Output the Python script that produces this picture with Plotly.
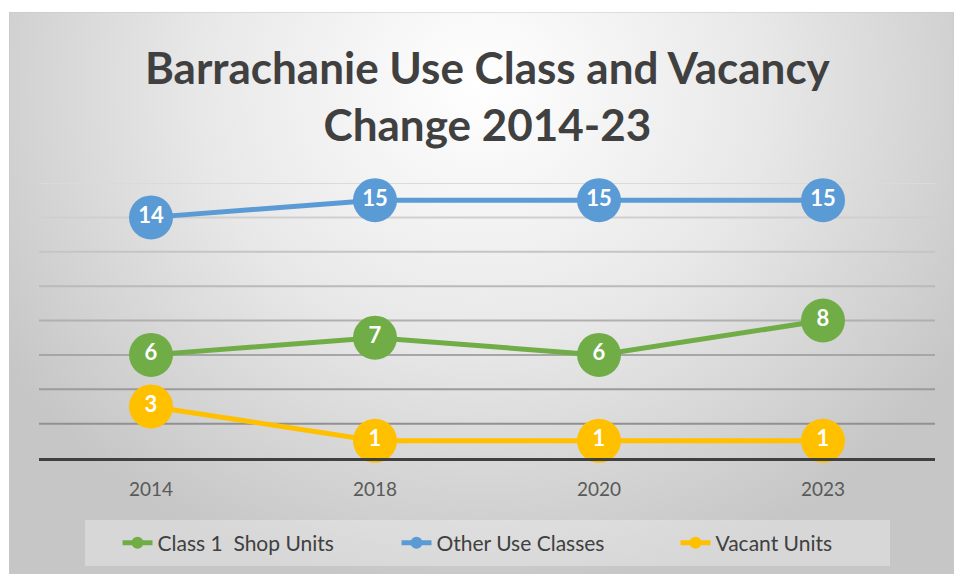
import base64
import plotly.graph_objects as go

# Survey years and unit counts per category
years = ["2014", "2018", "2020", "2023"]
shop_units = [6, 7, 6, 8]
other_use = [14, 15, 15, 15]
vacant_units = [3, 1, 1, 1]

series_names = ["Class 1\u00a0 Shop Units", "Other Use Classes", "Vacant Units"]
series_values = [shop_units, other_use, vacant_units]
series_colors = ["#70AD47", "#5B9BD5", "#FFC000"]

W, H = 954, 574
ML, MR, MT, MB = 39, 19, 183, 116
PW, PH = W - ML - MR, H - MT - MB
Y_MAX = 16

FONT = "Lato"

fig = go.Figure()

for name, vals, col in zip(series_names, series_values, series_colors):
    fig.add_trace(go.Scatter(
        x=years, y=vals, name=name,
        mode="lines+markers+text",
        line=dict(color=col, width=5),
        marker=dict(color=col, size=44, line=dict(width=0)),
        text=[str(v) for v in vals],
        textposition="middle center",
        textfont=dict(family=FONT, size=22, color="white", weight="bold"),
        cliponaxis=False,
    ))

# Radial-shaded chart background
bx0, by0 = 9, 12
bw, bh = W - bx0, H - by0
cx, cy = bw * 0.5, bh * 0.13
svg = f'''<svg xmlns="http://www.w3.org/2000/svg" width="{bw}" height="{bh}" viewBox="0 0 {bw} {bh}" preserveAspectRatio="none">
<defs><radialGradient id="g" gradientUnits="userSpaceOnUse" cx="{cx}" cy="{cy}" r="{bw*0.6}" gradientTransform="translate({cx} {cy}) scale(1 0.9) translate({-cx} {-cy})">
<stop offset="0" stop-color="#ffffff"/><stop offset="0.5" stop-color="#e8e8e8"/><stop offset="1" stop-color="#c6c6c6"/>
</radialGradient></defs>
<rect x="0" y="0" width="{bw}" height="{bh}" fill="url(#g)" stroke="#c8c8c8" stroke-width="1"/>
</svg>'''
uri = "data:image/svg+xml;base64," + base64.b64encode(svg.encode()).decode()
fig.add_layout_image(dict(
    source=uri, xref="paper", yref="paper",
    x=(bx0 - ML) / PW, y=(H - MB - by0) / PH,
    sizex=bw / PW, sizey=bh / PH,
    xanchor="left", yanchor="top", sizing="stretch", layer="below",
))

# Horizontal gridlines, darker toward the baseline
shapes = []
for v in range(2, Y_MAX + 1, 2):
    t = v / Y_MAX
    c = int(135 + (218 - 135) * t)
    shapes.append(dict(type="line", xref="paper", yref="y", x0=0, x1=1, y0=v, y1=v,
                       line=dict(color=f"rgb({c},{c},{c})", width=2), layer="below"))
# Legend panel
shapes.append(dict(type="rect", xref="paper", yref="paper",
                   x0=(85 - ML) / PW, x1=(890 - ML) / PW,
                   y0=(H - MB - 566) / PH, y1=(H - MB - 520) / PH,
                   fillcolor="rgba(255,255,255,0.3)", line=dict(width=0), layer="below"))

# Chart title
fig.add_annotation(
    text="Barrachanie Use Class and Vacancy<br>Change 2014-23",
    xref="paper", yref="paper",
    x=(488 - ML) / PW, y=(H - MB - 96) / PH,
    xanchor="center", yanchor="middle", showarrow=False,
    font=dict(family=FONT, size=44, color="#404040", weight="bold"),
)

fig.update_layout(
    width=W, height=H, autosize=False,
    margin=dict(l=ML, r=MR, t=MT, b=MB, autoexpand=False),
    paper_bgcolor="white", plot_bgcolor="rgba(0,0,0,0)",
    shapes=shapes,
    xaxis=dict(
        type="category", range=[-0.5, len(years) - 0.5],
        showgrid=False, zeroline=False, ticks="",
        showline=True, linecolor="#404040", linewidth=3,
        tickfont=dict(family=FONT, size=19, color="#595959"),
        ticklabelstandoff=12,
    ),
    yaxis=dict(range=[0, Y_MAX], showgrid=False, zeroline=False,
               showticklabels=False, showline=False),
    showlegend=True,
    legend=dict(
        orientation="h", x=(536 - ML) / PW, xanchor="center",
        y=(H - MB - 543) / PH, yanchor="middle",
        bgcolor="rgba(0,0,0,0)",
        font=dict(family=FONT, size=21, color="#404040"),
        entrywidth=234, entrywidthmode="pixels",
        itemsizing="constant",
    ),
)

fig.write_html("out.html")
